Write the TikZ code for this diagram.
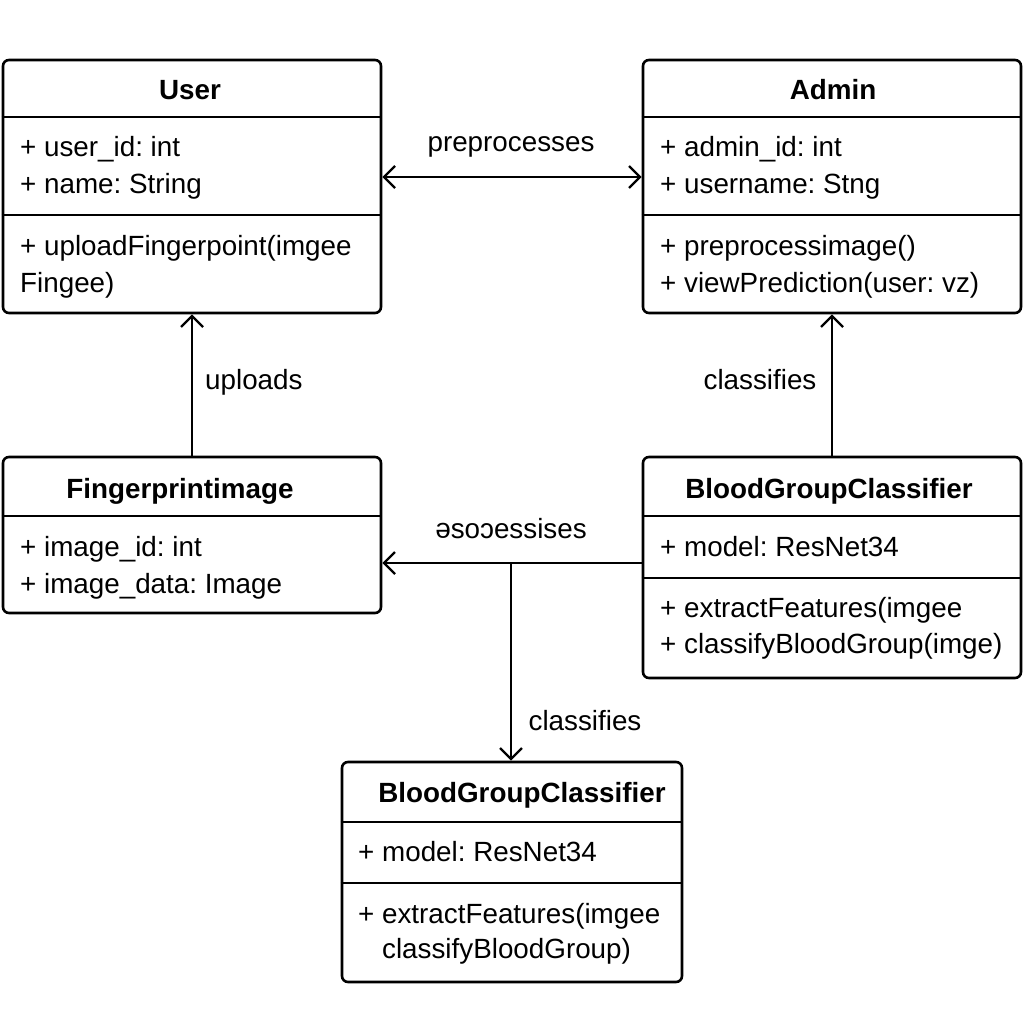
\documentclass[tikz,border=0pt]{standalone}
\usepackage{fontspec}
\setmainfont[Ligatures=CommonOff]{Liberation Sans}
\usepackage{graphicx}
\usetikzlibrary{arrows.meta}
\frenchspacing
\tikzstyle{classbox}=[draw=black,line width=2.6pt,rounded corners=6pt,inner sep=0pt]
\tikzstyle{divider}=[line width=2.6pt]
\tikzstyle{title}=[font=\fontsize{27.8}{37}\selectfont\bfseries,anchor=base,inner sep=0pt]
\tikzstyle{member}=[font=\fontsize{27.8}{37}\selectfont,anchor=base west,inner sep=0pt]
\tikzstyle{rel}=[font=\fontsize{27.8}{37}\selectfont,anchor=base,inner sep=0pt]
\tikzstyle{link}=[line width=2.4pt,>={Straight Barb[length=11pt,width=22pt]}]

\begin{document}
\begin{tikzpicture}[x=1pt,y=-1pt]
  \useasboundingbox (0,0) rectangle (1024,1024);
  % class boxes
  \node [classbox,minimum width=378pt,minimum height=253pt] (user) at (192,186.5) {};
  \node [classbox,minimum width=378pt,minimum height=253pt] (admin) at (832,186.5) {};
  \node [classbox,minimum width=378pt,minimum height=156pt] (fpimage) at (192,535) {};
  \node [classbox,minimum width=378pt,minimum height=221pt] (bgcRight) at (832,567.5) {};
  \node [classbox,minimum width=340pt,minimum height=220pt] (bgcBottom) at (512,872) {};
  % compartments
  \draw [divider] (user.west |- 0,117) -- (user.east |- 0,117);
  \draw [divider] (user.west |- 0,215) -- (user.east |- 0,215);
  \draw [divider] (admin.west |- 0,117) -- (admin.east |- 0,117);
  \draw [divider] (admin.west |- 0,215) -- (admin.east |- 0,215);
  \draw [divider] (fpimage.west |- 0,516) -- (fpimage.east |- 0,516);
  \draw [divider] (bgcRight.west |- 0,516) -- (bgcRight.east |- 0,516);
  \draw [divider] (bgcRight.west |- 0,578) -- (bgcRight.east |- 0,578);
  \draw [divider] (bgcBottom.west |- 0,822) -- (bgcBottom.east |- 0,822);
  \draw [divider] (bgcBottom.west |- 0,883) -- (bgcBottom.east |- 0,883);
  % User
  \node [title] (user-name) at (190,100) {User};
  \node [member] (user-a1) at (20,157) {+ user\_id: int};
  \node [member] (user-a2) at (20,194) {+ name: String};
  \node [member] (user-m1) at (20,255) {+ uploadFingerpoint(imgee};
  \node [member] (user-m2) at (20,292) {Fingee)};
  % Admin
  \node [title] (admin-name) at (833,100) {Admin};
  \node [member] (admin-a1) at (660,157) {+ admin\_id: int};
  \node [member] (admin-a2) at (660,194) {+ username: Stng};
  \node [member] (admin-m1) at (660,255) {+ preprocessimage()};
  \node [member] (admin-m2) at (660,292) {+ viewPrediction(user: vz)};
  % FingerprintImage
  \node [title] (fpimage-name) at (180,498) {Fingerprintimage};
  \node [member] (fpimage-a1) at (20,556) {+ image\_id: int};
  \node [member] (fpimage-a2) at (20,593) {+ image\_data: Image};
  % BloodGroupClassifier (right)
  \node [title] (bgcRight-name) at (829,498) {BloodGroupClassifier};
  \node [member] (bgcRight-a1) at (660,556) {+ model: ResNet34};
  \node [member] (bgcRight-m1) at (660,617) {+ extractFeatures(imgee};
  \node [member] (bgcRight-m2) at (660,653) {+ classifyBloodGroup(imge)};
  % BloodGroupClassifier (bottom)
  \node [title] (bgcBottom-name) at (522,802) {BloodGroupClassifier};
  \node [member] (bgcBottom-a1) at (358,861) {+ model: ResNet34};
  \node [member] (bgcBottom-m1) at (358,923) {+ extractFeatures(imgee};
  \node [member] (bgcBottom-m2) at (358,958) {\phantom{+ }classifyBloodGroup)};
  % relations
  \coordinate (split) at (511,563);
  \draw [link,<->] (user.east |- 0,177) -- (admin.west |- 0,177);
  \draw [link,->] (fpimage.north) -- (user.south);
  \draw [link,->] (bgcRight.north) -- (admin.south);
  \draw [link,->] (bgcRight.west |- split) -- (fpimage.east |- split);
  \draw [link,->] (split) -- (bgcBottom.north -| split);
  \node [rel] (preprocesses) at (511,152) {preprocesses};
  \node [rel,anchor=base west] (uploads) at (205,389) {uploads};
  \node [rel] (classifies-up) at (760,389) {classifies};
  \node [rel] (mirrored) at (511,538) {\rotatebox[origin=c]{180}{e}so\reflectbox{c}essises};
  \node [rel] (classifies-down) at (585,730) {classifies};
\end{tikzpicture}
\end{document}
